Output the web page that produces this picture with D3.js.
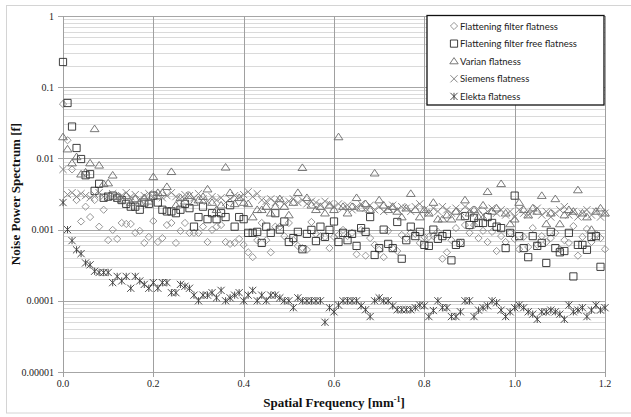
<!DOCTYPE html>
<html>
<head>
    <title>Noise Power Spectrum</title>
    <script src="https://d3js.org/d3.v7.min.js"></script>
    <style>
        body { margin: 0; background: #fff; }
        .tick-label { font-family: "Liberation Serif", "Times New Roman", serif; font-size: 10px; fill: #222; }
        .axis-title { font-family: "Liberation Serif", "Times New Roman", serif; font-size: 13px; font-weight: bold; fill: #111; }
        .legend text { font-family: Lato, "Open Sans", sans-serif; font-size: 9.5px; fill: #222; }
    </style>
</head>
<body>
<div id="chart"></div>

<script>
    // spatial frequency grid (mm^-1)
    var freq = [0.00,0.01,0.02,0.03,0.04,0.05,0.06,0.07,0.08,0.09,
        0.10,0.11,0.12,0.13,0.14,0.15,0.16,0.17,0.18,0.19,
        0.20,0.21,0.22,0.23,0.24,0.25,0.26,0.27,0.28,0.29,
        0.30,0.31,0.32,0.33,0.34,0.35,0.36,0.37,0.38,0.39,
        0.40,0.41,0.42,0.43,0.44,0.45,0.46,0.47,0.48,0.49,
        0.50,0.51,0.52,0.53,0.54,0.55,0.56,0.57,0.58,0.59,
        0.60,0.61,0.62,0.63,0.64,0.65,0.66,0.67,0.68,0.69,
        0.70,0.71,0.72,0.73,0.74,0.75,0.76,0.77,0.78,0.79,
        0.80,0.81,0.82,0.83,0.84,0.85,0.86,0.87,0.88,0.89,
        0.90,0.91,0.92,0.93,0.94,0.95,0.96,0.97,0.98,0.99,
        1.00,1.01,1.02,1.03,1.04,1.05,1.06,1.07,1.08,1.09,
        1.10,1.11,1.12,1.13,1.14,1.15,1.16,1.17,1.18,1.19,1.20];

    var ffFlatness = [0.058,0.018,0.007,0.0026,0.0013,0.0021,0.0015,0.0026,0.0011,0.0019,
        0.00071,0.00099,0.00074,0.00124,0.0012,0.0012,0.0009,0.00096,0.00065,0.00079,
        0.00132,0.00067,0.00076,0.00116,0.00124,0.00065,0.00096,0.00124,0.0009,0.0009,
        0.0009,0.0011,0.00067,0.00099,0.0011,0.00116,0.00067,0.00063,0.00065,0.00074,
        0.00061,0.00048,0.00041,0.00071,0.00124,0.00071,0.00048,0.0011,0.0011,0.00081,
        0.00124,0.00071,0.00059,0.00055,0.00052,0.00128,0.00087,0.00081,0.00079,0.00055,
        0.00079,0.00084,0.00099,0.00081,0.0009,0.00045,0.00099,0.00043,0.00076,0.00061,
        0.00052,0.00041,0.00096,0.00055,0.0005,0.00084,0.00076,0.0009,0.00087,0.00065,
        0.00079,0.00079,0.00081,0.00093,0.00039,0.00048,0.00071,0.00105,0.00065,0.00116,
        0.0009,0.00116,0.00076,0.00096,0.00067,0.00093,0.0005,0.00081,0.00067,0.0009,
        0.00074,0.00053,0.00079,0.00057,0.00105,0.00061,0.00081,0.00067,0.00076,0.0009,
        0.00053,0.00071,0.00065,0.00112,0.00043,0.00079,0.00102,0.00067,0.00087,0.00076,0.00053];

    var fffFlatness = [0.226,0.06,0.028,0.014,0.0098,0.0058,0.006,0.0035,0.0044,0.0028,
        0.0029,0.003,0.0028,0.0026,0.0023,0.0021,0.0021,0.0019,0.0024,0.0023,
        0.003,0.0024,0.0019,0.0018,0.0018,0.0017,0.0019,0.0023,0.002,0.0011,
        0.0015,0.0021,0.0014,0.0017,0.0014,0.0017,0.0015,0.0022,0.0011,0.0015,
        0.0014,0.0009,0.0009,0.00093,0.00065,0.0011,0.0009,0.0017,0.001,0.0013,
        0.00067,0.00076,0.00093,0.00053,0.00087,0.00099,0.00069,0.0011,0.00079,0.00099,
        0.0013,0.00067,0.0009,0.00071,0.00087,0.00059,0.00105,0.00093,0.0015,0.00044,
        0.00055,0.001,0.00063,0.00055,0.00128,0.00039,0.00071,0.0011,0.00081,0.00093,
        0.00061,0.00059,0.001,0.00074,0.00081,0.00087,0.00037,0.00061,0.00065,0.00155,
        0.00116,0.00146,0.00124,0.00124,0.0015,0.00124,0.0011,0.00105,0.00055,0.0009,
        0.003,0.00081,0.00055,0.00041,0.00081,0.00059,0.00065,0.00034,0.00093,0.00055,
        0.00048,0.0005,0.0009,0.00022,0.00061,0.00061,0.00052,0.00079,0.00081,0.0003,null];

    var varianFlatness = [0.02,0.0135,0.0086,0.0105,0.006,0.0064,0.0086,0.026,0.008,0.0044,
        0.0045,0.0058,0.0029,0.0026,0.003,0.0024,0.0027,0.0024,0.0028,0.0025,
        0.0055,0.0033,0.0033,0.004,0.0065,0.0022,0.0028,0.0025,0.003,0.0024,
        0.0026,0.0029,0.0037,0.0024,0.0019,0.0022,0.0075,0.0033,0.0023,0.0028,
        0.0024,0.0023,0.0015,0.0019,0.0019,0.0021,0.0017,0.0021,0.0027,0.0021,
        0.0016,0.0024,0.0033,0.0074,0.0028,0.0022,0.0019,0.0021,0.0017,0.0022,
        0.0019,0.02,0.0021,0.0017,0.0021,0.0028,0.002,0.0023,0.0019,0.0062,
        0.0026,0.0022,0.0019,0.0021,0.0018,0.0015,0.002,0.0032,0.0019,0.0015,
        0.0019,0.0017,0.0024,0.0014,0.0014,0.0016,0.0014,0.0018,0.0015,0.0026,
        0.0017,0.0019,0.0015,0.0022,0.0034,0.0018,0.002,0.0044,0.0017,0.0012,
        0.0014,0.0024,0.0019,0.0016,0.002,0.0018,0.003,0.0012,0.0017,0.0027,
        0.0012,0.0016,0.0019,0.0018,0.0036,0.0017,0.0015,0.001,0.0018,0.002,0.0017];

    var siemensFlatness = [0.007,0.0031,0.0033,0.0029,0.0032,0.0030,0.0028,0.0031,0.0033,0.0029,
        0.0030,0.0032,0.0028,0.0030,0.0033,0.0029,0.0031,0.0027,0.0030,0.0032,
        0.0029,0.0031,0.0028,0.0030,0.0033,0.0029,0.0027,0.0031,0.0030,0.0028,
        0.0032,0.0027,0.0025,0.0029,0.0026,0.0028,0.0024,0.0027,0.0030,0.0028,
        0.0031,0.0034,0.0029,0.0032,0.0026,0.0025,0.0027,0.0024,0.0026,0.0023,
        0.0025,0.0027,0.0024,0.0026,0.0023,0.0025,0.0024,0.0022,0.0025,0.0023,
        0.0021,0.0023,0.0020,0.0022,0.0019,0.0021,0.0023,0.0020,0.0022,0.0019,
        0.0021,0.0018,0.0020,0.0022,0.0019,0.0021,0.0020,0.0018,0.0021,0.0023,
        0.0019,0.0017,0.0020,0.0018,0.0021,0.0019,0.0017,0.0020,0.0018,0.0021,
        0.0019,0.0017,0.0019,0.0016,0.0018,0.0020,0.0017,0.0019,0.0016,0.0018,
        0.0015,0.0019,0.0017,0.0016,0.0018,0.0020,0.0016,0.0018,0.0015,0.0017,
        0.0019,0.0021,0.0016,0.0018,0.0015,0.0017,0.0019,0.0016,0.0018,0.0015,0.0017];

    var elektaFlatness = [0.0024,0.001,0.0007,0.00052,0.00046,0.00034,0.00032,0.00026,0.00025,0.00025,
        0.00025,0.00018,0.00022,0.00019,0.00022,0.00015,0.00022,0.00019,0.00017,0.00015,
        0.00018,0.00015,0.00018,0.00018,0.00013,0.00013,0.00017,0.00016,0.00015,0.00012,
        0.0001,0.00012,0.00012,0.00013,0.00011,0.00014,0.0001,0.00011,0.00012,0.00013,
        0.0001,0.00012,0.00014,0.0001,0.00012,0.0001,0.00012,0.00012,0.00011,0.0001,
        0.0001,0.00008,0.00011,0.0001,0.0001,0.0001,0.0001,0.0001,0.00005,0.00008,
        0.00007,0.000087,0.0001,0.0001,0.0001,0.0001,0.000085,0.000075,0.00006,0.0001,
        0.00011,0.0001,0.0001,0.000085,0.000075,0.000075,0.000075,0.000075,0.00008,0.000087,
        0.000085,0.00006,0.000073,0.0001,0.00008,0.00008,0.00006,0.00006,0.00007,0.0001,
        0.0001,0.00006,0.000074,0.00008,0.000085,0.0001,0.000094,0.000074,0.00006,0.00007,
        0.00008,0.000087,0.00008,0.00007,0.000065,0.000055,0.00007,0.00007,0.000074,0.00007,
        0.000065,0.000055,0.000087,0.00007,0.000074,0.00008,0.00006,0.000074,0.000087,0.000074,0.00008];

    var seriesNames = ["Flattening filter flatness", "Flattening filter free flatness",
        "Varian flatness", "Siemens flatness", "Elekta flatness"];
    var seriesValues = [ffFlatness, fffFlatness, varianFlatness, siemensFlatness, elektaFlatness];
    var seriesMarkers = ["diamond", "square", "triangle", "cross", "asterisk"];
    var seriesColors = ["#8a8a8a", "#2a2a2a", "#6a6a6a", "#7a7a7a", "#3a3a3a"];

    var yTicks = [1, 0.1, 0.01, 0.001, 0.0001, 0.00001];
    var yTickLabels = ["1", "0.1", "0.01", "0.001", "0.0001", "0.00001"];
    var xTicks = [0, 0.2, 0.4, 0.6, 0.8, 1.0, 1.2];

    var width = 631, height = 417;
    var margin = { top: 16, right: 26, bottom: 45, left: 63 };

    var svg = d3.select("#chart").append("svg")
        .attr("width", width)
        .attr("height", height);

    // outer chart border
    svg.append("rect")
        .attr("x", 6.5).attr("y", 5.5)
        .attr("width", 630).attr("height", 407.5)
        .attr("fill", "none").attr("stroke", "#d4d4d4");

    var xScale = d3.scaleLinear().domain([0, 1.2]).range([margin.left, width - margin.right]);
    var yScale = d3.scaleLog().domain([0.00001, 1]).range([height - margin.bottom, margin.top]);

    // minor horizontal gridlines (2..9 in each decade)
    var minor = [];
    for (var d = -5; d < 0; d++) {
        for (var m = 2; m <= 9; m++) minor.push(m * Math.pow(10, d));
    }
    svg.append("g").selectAll("line").data(minor).enter().append("line")
        .attr("x1", xScale(0)).attr("x2", xScale(1.2))
        .attr("y1", d => Math.round(yScale(d)) + 0.5).attr("y2", d => Math.round(yScale(d)) + 0.5)
        .attr("stroke", "#dadada").attr("stroke-width", 1);

    // major horizontal gridlines
    svg.append("g").selectAll("line").data(yTicks).enter().append("line")
        .attr("x1", xScale(0) - 5).attr("x2", xScale(1.2))
        .attr("y1", d => Math.round(yScale(d)) + 0.5).attr("y2", d => Math.round(yScale(d)) + 0.5)
        .attr("stroke", "#a6a6a6").attr("stroke-width", 1);

    // vertical gridlines + x ticks
    svg.append("g").selectAll("line").data(xTicks).enter().append("line")
        .attr("x1", d => Math.round(xScale(d)) + 0.5).attr("x2", d => Math.round(xScale(d)) + 0.5)
        .attr("y1", margin.top).attr("y2", height - margin.bottom + 5)
        .attr("stroke", "#a0a0a0").attr("stroke-width", 1);

    // Y tick labels
    svg.append("g").selectAll("text").data(yTicks).enter().append("text")
        .attr("class", "tick-label")
        .attr("x", 54)
        .attr("y", d => yScale(d) + 3.5)
        .attr("text-anchor", "end")
        .text((d, i) => yTickLabels[i]);

    // X tick labels
    svg.append("g").selectAll("text").data(xTicks).enter().append("text")
        .attr("class", "tick-label")
        .attr("x", d => xScale(d))
        .attr("y", height - margin.bottom + 15)
        .attr("text-anchor", "middle")
        .text(d => d3.format(".1f")(d));

    // marker shapes, centred on 0,0
    function markerPath(type, s) {
        if (type == "diamond") return "M0," + (-s) + "L" + s + ",0L0," + s + "L" + (-s) + ",0Z";
        if (type == "square") return "M" + (-s) + "," + (-s) + "h" + 2 * s + "v" + 2 * s + "h" + (-2 * s) + "Z";
        if (type == "triangle") return "M0," + (-s) + "L" + (s + 0.6) + "," + (s - 1) + "L" + (-s - 0.6) + "," + (s - 1) + "Z";
        if (type == "cross") return "M" + (-s) + "," + (-s) + "L" + s + "," + s + "M" + s + "," + (-s) + "L" + (-s) + "," + s;
        // asterisk: cross plus vertical bar
        return "M" + (-s) + "," + (-s) + "L" + s + "," + s + "M" + s + "," + (-s) + "L" + (-s) + "," + s +
            "M0," + (-s) + "L0," + s;
    }
    var markerSize = [3.6, 3.6, 3.8, 3.6, 3.6];

    seriesValues.forEach(function(vals, k) {
        var pts = freq.map((f, i) => ({ f: f, v: vals[i] })).filter(p => p.v != null);
        svg.append("g").selectAll("path").data(pts).enter().append("path")
            .attr("transform", p => "translate(" + xScale(p.f) + "," + yScale(p.v) + ")")
            .attr("d", markerPath(seriesMarkers[k], markerSize[k]))
            .attr("fill", "none")
            .attr("stroke", seriesColors[k])
            .attr("stroke-width", 0.9);
    });

    // axis titles
    svg.append("text")
        .attr("class", "axis-title")
        .attr("transform", "translate(20," + ((margin.top + height - margin.bottom) / 2) + ") rotate(-90)")
        .attr("text-anchor", "middle")
        .text("Noise Power Spectrum [f]");

    var xt = svg.append("text")
        .attr("class", "axis-title")
        .attr("x", 334)
        .attr("y", 407)
        .attr("text-anchor", "middle");
    xt.append("tspan").text("Spatial Frequency  [mm");
    xt.append("tspan").attr("dy", -5).attr("font-size", "8px").text("-1");
    xt.append("tspan").attr("dy", 5).text("]");

    // legend
    var legend = svg.append("g").attr("class", "legend");
    legend.append("rect")
        .attr("x", 427).attr("y", 15.5)
        .attr("width", 177).attr("height", 89.5)
        .attr("fill", "#fff").attr("stroke", "#111").attr("stroke-width", 1.3);
    seriesNames.forEach(function(name, k) {
        var ly = 26 + k * 17.6;
        legend.append("path")
            .attr("transform", "translate(454," + ly + ")")
            .attr("d", markerPath(seriesMarkers[k], 3.6))
            .attr("fill", "none")
            .attr("stroke", seriesColors[k])
            .attr("stroke-width", 0.9);
        legend.append("text")
            .attr("x", 460)
            .attr("y", ly + 3.5)
            .text(name);
    });
</script>
</body>
</html>
